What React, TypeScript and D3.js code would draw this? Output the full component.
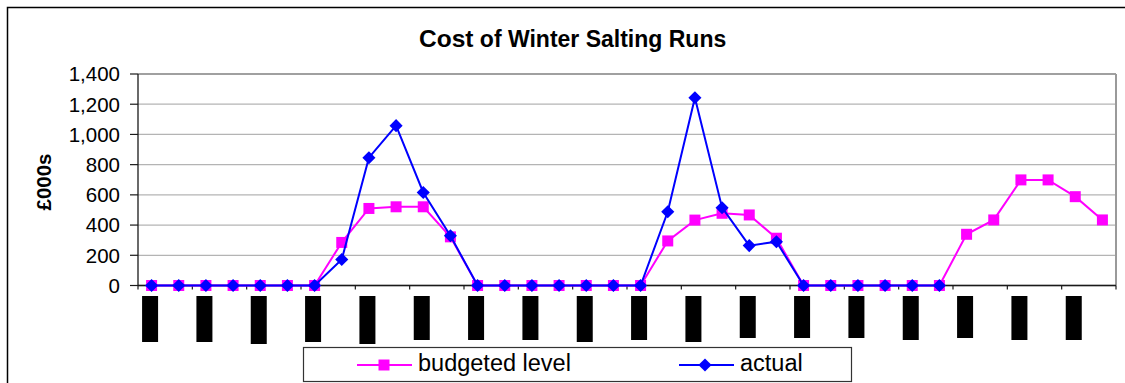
import React from 'react';
import * as d3 from 'd3';

const categories = [
  'Apr-00','May-00','Jun-00','Jul-00','Aug-00','Sep-00','Oct-00','Nov-00','Dec-00','Jan-01','Feb-01','Mar-01',
  'Apr-01','May-01','Jun-01','Jul-01','Aug-01','Sep-01','Oct-01','Nov-01','Dec-01','Jan-02','Feb-02','Mar-02',
  'Apr-02','May-02','Jun-02','Jul-02','Aug-02','Sep-02','Oct-02','Nov-02','Dec-02','Jan-03','Feb-03','Mar-03',
];

const budgeted: number[] = [
  0, 0, 0, 0, 0, 0, 0, 285, 510, 521, 521, 322,
  0, 0, 0, 0, 0, 0, 0, 295, 433, 478, 467, 313,
  0, 0, 0, 0, 0, 0, 339, 434, 699, 699, 588, 434,
];

const actual: (number | null)[] = [
  0, 0, 0, 0, 0, 0, 0, 172, 846, 1058, 616, 329,
  0, 0, 0, 0, 0, 0, 0, 488, 1243, 515, 264, 290,
  0, 0, 0, 0, 0, 0, null, null, null, null, null, null,
];

const yTicks = [0, 200, 400, 600, 800, 1000, 1200, 1400];

// category labels render as solid black blocks in the reference (one per 2 categories)
const labelBlockHeights = [46, 46, 48, 46, 48, 44, 44, 44, 46, 44, 46, 42, 42, 42, 44, 42, 44, 44];

const seriesNames = ['budgeted level', 'actual'];

const FONT = "'Liberation Sans', Arial, Helvetica, sans-serif";

export default function App() {
  const W = 1125;
  const H = 383;
  const left = 138;
  const right = 1116;
  const top = 74;
  const bottom = 285.5;

  const x = d3.scaleBand<string>().domain(categories).range([left, right]).padding(0);
  const y = d3.scaleLinear().domain([0, 1400]).range([bottom, top]);
  const cx = (i: number) => (x(categories[i]) as number) + x.bandwidth() / 2;
  const fmt = d3.format(',');

  const lineGen = d3
    .line<number | null>()
    .defined((d) => d != null)
    .x((_, i) => cx(i))
    .y((d) => y(d as number));

  const squarePath = d3.symbol(d3.symbolSquare, 121)() as string;
  const diamondPath = d3.symbol(d3.symbolSquare, 86)() as string;

  const pink = '#FF00FF';
  const blue = '#0000FF';

  const tickIdx = d3.range(0, categories.length + 1, 2);
  const boundaryX = (k: number) =>
    k >= categories.length ? right : (x(categories[k]) as number);

  return (
    <svg
      width={W}
      height={H}
      style={{ position: 'fixed', left: 0, top: 0, background: '#fff' }}
      fontFamily={FONT}
    >
      <rect x={0} y={0} width={W} height={H} fill="#fff" />
      {/* outer chart border */}
      <rect x={7.5} y={7.5} width={W + 20} height={H + 20} fill="none" stroke="#000" strokeWidth={1.5} />

      {/* title */}
      <text x={419} y={47} fontWeight="bold" fill="#000">
        <tspan fontSize={24.5}>Cost</tspan>
        <tspan fontSize={23}> of Winter Salting Runs</tspan>
      </text>

      {/* gridlines */}
      {yTicks.map((t) => (
        <line
          key={'g' + t}
          x1={left}
          x2={right}
          y1={y(t)}
          y2={y(t)}
          stroke={t === 1400 ? '#808080' : '#b4b4b4'}
          strokeWidth={t === 1400 ? 1.6 : 1.3}
        />
      ))}
      {/* plot right border */}
      <line x1={right} x2={right} y1={top} y2={bottom} stroke="#9a9a9a" strokeWidth={2} />

      {/* y axis */}
      <line x1={left} x2={left} y1={top} y2={bottom} stroke="#1a1a1a" strokeWidth={1.3} />
      {yTicks.map((t) => (
        <g key={'yt' + t}>
          <line x1={left - 8} x2={left} y1={y(t)} y2={y(t)} stroke="#1a1a1a" strokeWidth={1.2} />
          <text x={120} y={y(t)} dy="0.36em" textAnchor="end" fontSize={20.5} fill="#000">
            {fmt(t)}
          </text>
        </g>
      ))}
      <text
        transform={`translate(51,182) rotate(-90)`}
        textAnchor="middle"
        fontSize={20.5}
        fontWeight="bold"
        fill="#000"
      >
        £000s
      </text>

      {/* x axis */}
      <line x1={left} x2={right} y1={bottom} y2={bottom} stroke="#1a1a1a" strokeWidth={1.5} />
      {tickIdx.map((k) => (
        <line
          key={'xt' + k}
          x1={boundaryX(k)}
          x2={boundaryX(k)}
          y1={bottom}
          y2={bottom + 4}
          stroke="#1a1a1a"
          strokeWidth={1.2}
        />
      ))}
      {labelBlockHeights.map((h, j) => (
        <rect key={'lb' + j} x={cx(j * 2) - 9.5} y={296} width={16} height={h} fill="#000" />
      ))}

      {/* budgeted series */}
      <path d={lineGen(budgeted) as string} fill="none" stroke={pink} strokeWidth={2} />
      {budgeted.map((v, i) => (
        <path key={'b' + i} d={squarePath} transform={`translate(${cx(i)},${y(v)})`} fill={pink} />
      ))}

      {/* actual series */}
      <path d={lineGen(actual) as string} fill="none" stroke={blue} strokeWidth={2} />
      {actual.map((v, i) =>
        v == null ? null : (
          <path
            key={'a' + i}
            d={diamondPath}
            transform={`translate(${cx(i)},${y(v)}) rotate(45)`}
            fill={blue}
          />
        )
      )}

      {/* legend */}
      <rect x={303.5} y={347.5} width={548} height={34} fill="#fff" stroke="#333" strokeWidth={1.2} />
      <line x1={357} x2={412} y1={365} y2={365} stroke={pink} strokeWidth={2} />
      <path d={squarePath} transform="translate(384,365)" fill={pink} />
      <text x={418} y={371} fontSize={23.5} fill="#000">
        {seriesNames[0]}
      </text>
      <line x1={679} x2={734} y1={365} y2={365} stroke={blue} strokeWidth={2} />
      <path d={diamondPath} transform="translate(705,365) rotate(45)" fill={blue} />
      <text x={740} y={371} fontSize={23.5} fill="#000">
        {seriesNames[1]}
      </text>
    </svg>
  );
}
